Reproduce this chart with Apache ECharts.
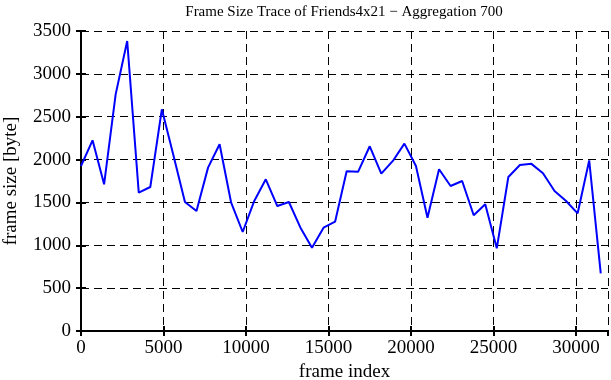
<!DOCTYPE html>
<html>
<head>
<meta charset="utf-8">
<script src="https://cdn.jsdelivr.net/npm/echarts@6/dist/echarts.min.js"></script>
<style>
  html, body { margin: 0; padding: 0; background: #fff; }
  #chart { width: 611px; height: 380px; }
</style>
</head>
<body>
<div id="chart"></div>
<script>
// aggregation step (frames per point)
var step = 700;
// frame size values, one per 700 frames
var frameSizes = [
  1925, 2225, 1711, 2761, 3383, 1614, 1680, 2586, 2050, 1505,
  1400, 1906, 2178, 1497, 1155, 1517, 1770, 1458, 1505, 1205,
  972, 1205, 1275, 1863, 1859, 2155, 1836, 1984, 2186, 1925,
  1322, 1887, 1692, 1750, 1350, 1478, 965, 1797, 1937, 1950,
  1840, 1633, 1517, 1373, 1990, 673
];
var xTicks = [0, 5000, 10000, 15000, 20000, 25000, 30000];
var yTicks = [0, 500, 1000, 1500, 2000, 2500, 3000, 3500];

var points = frameSizes.map(function (v, i) { return [i * step, v]; });

var font = '"Liberation Serif", "DejaVu Serif", serif';
var axisLine = { lineStyle: { color: '#000', width: 2 } };
var tick = { inside: true, length: 5, lineStyle: { color: '#000', width: 2 } };
var gridLine = { show: true, lineStyle: { color: '#000', type: [8, 5], width: 1 } };
var plain = function (v) { return String(v); };

var chart = echarts.init(document.getElementById('chart'), null, { renderer: 'canvas' });
chart.setOption({
  animation: false,
  textStyle: { fontFamily: font },
  title: {
    text: 'Frame Size Trace of Friends4x21 \u2212 Aggregation 700',
    left: 339, top: 0, textAlign: 'center',
    textStyle: { fontFamily: font, fontSize: 15, fontWeight: 'normal', color: '#000' }
  },
  grid: { left: 81, right: 3, top: 31, bottom: 49, outerBoundsMode: 'none', containLabel: false },
  xAxis: [{
    type: 'value', min: 0, max: 31940, interval: 5000,
    name: 'frame index', nameLocation: 'middle', nameGap: 29,
    nameTextStyle: { fontFamily: font, fontSize: 19, color: '#000' },
    axisLine: axisLine,
    axisTick: tick,
    axisLabel: { fontFamily: font, fontSize: 19, color: '#000', margin: 8, showMaxLabel: false, formatter: plain },
    splitLine: gridLine
  }, {
    type: 'value', position: 'top', min: 0, max: 31940, interval: 5000,
    axisLine: axisLine,
    axisTick: tick,
    axisLabel: { show: false }, splitLine: { show: false }
  }],
  yAxis: [{
    type: 'value', min: 0, max: 3500, interval: 500,
    name: 'frame size [byte]', nameLocation: 'middle', nameGap: 60, nameRotate: 90,
    nameTextStyle: { fontFamily: font, fontSize: 19, color: '#000' },
    axisLine: axisLine,
    axisTick: tick,
    axisLabel: { fontFamily: font, fontSize: 19, color: '#000', margin: 10, formatter: plain },
    splitLine: gridLine
  }, {
    type: 'value', position: 'right', min: 0, max: 3500, interval: 500,
    axisLine: axisLine,
    axisTick: tick,
    axisLabel: { show: false }, splitLine: { show: false }
  }],
  series: [{
    type: 'line',
    data: points,
    showSymbol: false,
    lineStyle: { color: '#0000ff', width: 2 },
    itemStyle: { color: '#0000ff' }
  }]
});
</script>
</body>
</html>
